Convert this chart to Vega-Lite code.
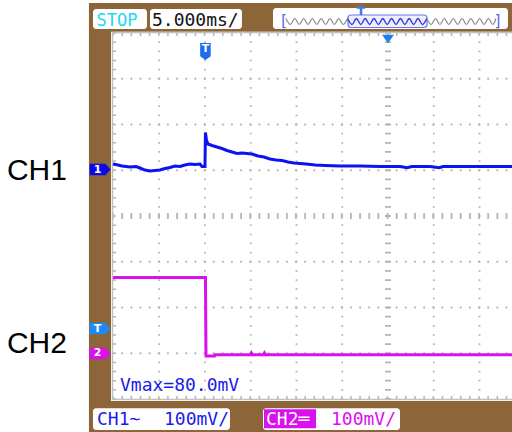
{
  "$schema": "https://vega.github.io/schema/vega-lite/v6.json",
  "width": 512,
  "height": 432,
  "autosize": {"type": "none"},
  "padding": 0,
  "background": "white",
  "config": {"view": {"stroke": null}},
  "datasets": {
    "frame": [{"t": -12.68, "t2": 33.55, "v": 465.6, "v2": -472.1}],
    "plot": [{"t": -10.27, "t2": 33.55, "v": 402.8, "v2": -404.4}],
    "gridDots": [
      {"t": -5, "t2": -5, "v": 400, "v2": -400},
      {"t": 0, "t2": 0, "v": 400, "v2": -400},
      {"t": 5, "t2": 5, "v": 400, "v2": -400},
      {"t": 10, "t2": 10, "v": 400, "v2": -400},
      {"t": 15, "t2": 15, "v": 400, "v2": -400},
      {"t": 25, "t2": 25, "v": 400, "v2": -400},
      {"t": 30, "t2": 30, "v": 400, "v2": -400},
      {"t": -10.05, "t2": 33.55, "v": 300, "v2": 300},
      {"t": -10.05, "t2": 33.55, "v": 200, "v2": 200},
      {"t": -10.05, "t2": 33.55, "v": 100, "v2": 100},
      {"t": -10.05, "t2": 33.55, "v": -100, "v2": -100},
      {"t": -10.05, "t2": 33.55, "v": -200, "v2": -200},
      {"t": -10.05, "t2": 33.55, "v": -300, "v2": -300}
    ],
    "gridCenter": [
      {"t": 20, "t2": 20, "v": 400, "v2": -400},
      {"t": -10.05, "t2": 33.55, "v": 0, "v2": 0}
    ],
    "border": [
      {"t": -10.11, "t2": -10.11, "v": 402, "v2": -402},
      {"t": -10.11, "t2": 33.55, "v": 401.1, "v2": 401.1},
      {"t": -10.11, "t2": 33.55, "v": -401.1, "v2": -401.1}
    ],
    "borderTicks": [
      {"t": -10.05, "t2": 33.55, "v": 396.7, "v2": 396.7},
      {"t": -10.05, "t2": 33.55, "v": -396.7, "v2": -396.7},
      {"t": -9.89, "t2": -9.89, "v": 400, "v2": -400}
    ],
    "ch1": [
      {"t": -10.05, "v": 113.7}, {"t": -9.51, "v": 111.5}, {"t": -9.07, "v": 109.3},
      {"t": -8.2, "v": 107.1}, {"t": -7.54, "v": 108.2}, {"t": -7.1, "v": 104.9},
      {"t": -6.56, "v": 100.5}, {"t": -6.01, "v": 98.4}, {"t": -5.46, "v": 99.5},
      {"t": -4.92, "v": 100.5}, {"t": -4.37, "v": 103.8}, {"t": -3.83, "v": 106.0},
      {"t": -3.28, "v": 109.3}, {"t": -2.73, "v": 108.2}, {"t": -2.19, "v": 111.5},
      {"t": -1.64, "v": 113.7}, {"t": -1.09, "v": 112.6}, {"t": -0.55, "v": 113.7},
      {"t": -0.33, "v": 108.2}, {"t": 0.0, "v": 108.2}, {"t": 0.05, "v": 182.5},
      {"t": 0.16, "v": 166.1}, {"t": 0.33, "v": 157.4}, {"t": 0.77, "v": 154.1},
      {"t": 1.31, "v": 150.8}, {"t": 1.86, "v": 147.5}, {"t": 2.4, "v": 143.2},
      {"t": 2.95, "v": 139.9}, {"t": 3.5, "v": 136.6}, {"t": 4.04, "v": 137.7},
      {"t": 4.59, "v": 136.6}, {"t": 5.14, "v": 135.5}, {"t": 5.79, "v": 131.1},
      {"t": 6.45, "v": 129.0}, {"t": 7.1, "v": 124.6}, {"t": 7.76, "v": 122.4},
      {"t": 8.42, "v": 121.3}, {"t": 9.07, "v": 118.0}, {"t": 9.73, "v": 115.8},
      {"t": 10.38, "v": 114.8}, {"t": 11.04, "v": 113.7}, {"t": 12.02, "v": 111.5},
      {"t": 13.11, "v": 110.4}, {"t": 14.75, "v": 109.3}, {"t": 16.94, "v": 109.3},
      {"t": 19.13, "v": 108.2}, {"t": 21.31, "v": 108.2}, {"t": 22.1, "v": 105.5},
      {"t": 22.6, "v": 108.2}, {"t": 24.59, "v": 108.2}, {"t": 25.6, "v": 105.5},
      {"t": 26.0, "v": 108.2}, {"t": 27.87, "v": 108.2}, {"t": 31.15, "v": 108.2},
      {"t": 33.55, "v": 108.2}
    ],
    "ch2": [
      {"t": -10.05, "v": -134.4}, {"t": 0.05, "v": -134.4}, {"t": 0.11, "v": -306.0},
      {"t": 1.04, "v": -306.0}, {"t": 1.09, "v": -303.2}, {"t": 5.0, "v": -303.2},
      {"t": 5.08, "v": -299.5}, {"t": 5.2, "v": -303.2}, {"t": 6.4, "v": -303.2},
      {"t": 6.5, "v": -299.5}, {"t": 6.62, "v": -303.2}, {"t": 33.55, "v": -303.2}
    ],
    "chMarkers": [
      {"t": -11.46, "v": 101.6, "c": "1"},
      {"t": -11.46, "v": -245.9, "c": "T"},
      {"t": -11.46, "v": -300.5, "c": "2"}
    ],
    "trig": [{"t": 0.05, "v": 359.6}],
    "trigText": [{"t": 0.05, "v": 366.0, "s": "T"}],
    "center": [{"t": 20, "v": 386.9}],
    "boxes": [
      {"t": -12.24, "t2": -6.34, "v": 452.5, "v2": 408.7},
      {"t": -6.01, "t2": 4.04, "v": 452.5, "v2": 408.7},
      {"t": 7.43, "t2": 33.11, "v": 454.6, "v2": 408.7},
      {"t": -12.24, "t2": 2.73, "v": -420.0, "v2": -467.8},
      {"t": 6.34, "t2": 21.31, "v": -420.0, "v2": -467.8}
    ],
    "memHi": [{"t": 15.63, "t2": 24.26, "v": 439.3, "v2": 412.0}],
    "memT": [
      {"t": 16.58, "t2": 17.49, "v": 455.7, "v2": 455.7},
      {"t": 17.05, "t2": 17.05, "v": 455.7, "v2": 439.3}
    ],
    "waveGreyL": [
      {"t": 8.85, "v": 431.7}, {"t": 9.33, "v": 418.6}, {"t": 9.81, "v": 431.7},
      {"t": 10.3, "v": 418.6}, {"t": 10.78, "v": 431.7}, {"t": 11.26, "v": 418.6},
      {"t": 11.74, "v": 431.7}, {"t": 12.22, "v": 418.6}, {"t": 12.7, "v": 431.7},
      {"t": 13.18, "v": 418.6}, {"t": 13.66, "v": 431.7}, {"t": 14.14, "v": 418.6},
      {"t": 14.62, "v": 431.7}, {"t": 15.1, "v": 418.6}, {"t": 15.58, "v": 431.7}
    ],
    "waveBlue": [
      {"t": 15.58, "v": 431.7}, {"t": 16.07, "v": 418.6}, {"t": 16.55, "v": 431.7},
      {"t": 17.03, "v": 418.6}, {"t": 17.51, "v": 431.7}, {"t": 17.99, "v": 418.6},
      {"t": 18.47, "v": 431.7}, {"t": 18.95, "v": 418.6}, {"t": 19.43, "v": 431.7},
      {"t": 19.91, "v": 418.6}, {"t": 20.39, "v": 431.7}, {"t": 20.87, "v": 418.6},
      {"t": 21.36, "v": 431.7}, {"t": 21.84, "v": 418.6}, {"t": 22.32, "v": 431.7},
      {"t": 22.8, "v": 418.6}, {"t": 23.28, "v": 431.7}, {"t": 23.76, "v": 418.6},
      {"t": 24.24, "v": 431.7}
    ],
    "waveGreyR": [
      {"t": 24.24, "v": 431.7}, {"t": 24.72, "v": 418.6}, {"t": 25.2, "v": 431.7},
      {"t": 25.68, "v": 418.6}, {"t": 26.16, "v": 431.7}, {"t": 26.64, "v": 418.6},
      {"t": 27.13, "v": 431.7}, {"t": 27.61, "v": 418.6}, {"t": 28.09, "v": 431.7},
      {"t": 28.57, "v": 418.6}, {"t": 29.05, "v": 431.7}, {"t": 29.53, "v": 418.6},
      {"t": 30.01, "v": 431.7}, {"t": 30.49, "v": 418.6}, {"t": 30.97, "v": 431.7},
      {"t": 31.45, "v": 418.6}, {"t": 31.8, "v": 431.7}
    ],
    "brackets": [
      {"t": 8.58, "v": 414.2, "s": "["},
      {"t": 32.02, "v": 414.2, "s": "]"}
    ],
    "magRect": [{"t": 6.45, "t2": 12.13, "v": -422.5, "v2": -464.1}],
    "stopText": [{"t": -11.86, "v": 415.3, "s": "STOP"}],
    "timeText": [{"t": -5.79, "v": 414.5, "s": "5.000ms/"}],
    "blueTexts": [
      {"t": -9.29, "v": -382.5, "s": "Vmax=80.0mV"},
      {"t": -11.8, "v": -456.8, "s": "CH1~"},
      {"t": -4.48, "v": -456.8, "s": "100mV/"}
    ],
    "ch2Label": [{"t": 6.67, "v": -456.8, "s": "CH2═"}],
    "ch2Scale": [{"t": 13.77, "v": -456.8, "s": "100mV/"}],
    "sideLabels": [
      {"t": -21.64, "v": 78.7, "s": "CH1"},
      {"t": -21.64, "v": -300.1, "s": "CH2"}
    ]
  },
  "encoding": {
    "x": {"field": "t", "type": "quantitative", "scale": {"domain": [-22.4, 33.55], "nice": false, "zero": false}, "axis": null},
    "y": {"field": "v", "type": "quantitative", "scale": {"domain": [-472.1, 472.1], "nice": false, "zero": false}, "axis": null}
  },
  "layer": [
    {"data": {"name": "frame"}, "mark": {"type": "rect", "fill": "#8C6539"},
     "encoding": {"x2": {"field": "t2"}, "y2": {"field": "v2"}}},
    {"data": {"name": "plot"}, "mark": {"type": "rect", "fill": "#FFFFFF"},
     "encoding": {"x2": {"field": "t2"}, "y2": {"field": "v2"}}},
    {"data": {"name": "gridDots"}, "mark": {"type": "rule", "stroke": "#B4B4B4", "strokeWidth": 1.8, "strokeDash": [1.8, 7.35], "strokeDashOffset": 0.9},
     "encoding": {"x2": {"field": "t2"}, "y2": {"field": "v2"}}},
    {"data": {"name": "gridCenter"}, "mark": {"type": "rule", "stroke": "#B4B4B4", "strokeWidth": 6, "strokeDash": [1.8, 7.35], "strokeDashOffset": 0.9},
     "encoding": {"x2": {"field": "t2"}, "y2": {"field": "v2"}}},
    {"data": {"name": "border"}, "mark": {"type": "rule", "stroke": "#C0C0C0", "strokeWidth": 1.5},
     "encoding": {"x2": {"field": "t2"}, "y2": {"field": "v2"}}},
    {"data": {"name": "borderTicks"}, "mark": {"type": "rule", "stroke": "#B4B4B4", "strokeWidth": 3, "strokeDash": [1.5, 7.65], "strokeDashOffset": 0.75},
     "encoding": {"x2": {"field": "t2"}, "y2": {"field": "v2"}}},
    {"data": {"name": "ch2"}, "mark": {"type": "line", "stroke": "#DA10EE", "strokeWidth": 3, "strokeJoin": "miter"},
     "encoding": {}},
    {"data": {"name": "ch1"}, "mark": {"type": "line", "stroke": "#0B14F0", "strokeWidth": 3, "strokeJoin": "miter"},
     "encoding": {}},
    {"data": {"name": "chMarkers"},
     "mark": {"type": "point", "filled": true, "opacity": 1, "strokeWidth": 0, "size": 441, "shape": "M-1,-0.55L0.5,-0.55L1,0L0.5,0.55L-1,0.55Z"},
     "encoding": {"color": {"field": "c", "type": "nominal", "scale": {"domain": ["1", "T", "2"], "range": ["#0A0AE8", "#1E8AF2", "#DA10EE"]}, "legend": null}}},
    {"data": {"name": "chMarkers"},
     "mark": {"type": "text", "fill": "#FFFFFF", "font": "DejaVu Sans", "fontWeight": "bold", "fontSize": 11, "align": "center", "baseline": "middle", "dx": -2.5},
     "encoding": {"text": {"field": "c"}}},
    {"data": {"name": "trig"},
     "mark": {"type": "point", "filled": true, "opacity": 1, "strokeWidth": 0, "size": 289, "fill": "#1D6DEE", "shape": "M-0.62,-1L0.62,-1L0.62,0.55L0,1L-0.62,0.55Z"},
     "encoding": {}},
    {"data": {"name": "trigText"},
     "mark": {"type": "text", "fill": "#FFFFFF", "font": "DejaVu Sans", "fontWeight": "bold", "fontSize": 11, "align": "center", "baseline": "middle"},
     "encoding": {"text": {"field": "s"}}},
    {"data": {"name": "center"},
     "mark": {"type": "point", "filled": true, "opacity": 1, "strokeWidth": 0, "size": 144, "fill": "#1E7FEA", "shape": "M-1,-0.7L1,-0.7L0,0.7Z"},
     "encoding": {}},
    {"data": {"name": "boxes"}, "mark": {"type": "rect", "fill": "#FFFFFF", "cornerRadius": 3},
     "encoding": {"x2": {"field": "t2"}, "y2": {"field": "v2"}}},
    {"data": {"name": "memHi"}, "mark": {"type": "rect", "fill": "#EEEEFF", "stroke": "#6A78F0", "strokeWidth": 1.2, "cornerRadius": 3},
     "encoding": {"x2": {"field": "t2"}, "y2": {"field": "v2"}}},
    {"data": {"name": "memT"}, "mark": {"type": "rule", "stroke": "#3C7BE8", "strokeWidth": 2.5},
     "encoding": {"x2": {"field": "t2"}, "y2": {"field": "v2"}}},
    {"data": {"name": "waveGreyL"}, "mark": {"type": "line", "stroke": "#8A8A8A", "strokeWidth": 1.2, "interpolate": "monotone"}, "encoding": {}},
    {"data": {"name": "waveBlue"}, "mark": {"type": "line", "stroke": "#3434E0", "strokeWidth": 1.4, "interpolate": "monotone"}, "encoding": {}},
    {"data": {"name": "waveGreyR"}, "mark": {"type": "line", "stroke": "#8A8A8A", "strokeWidth": 1.2, "interpolate": "monotone"}, "encoding": {}},
    {"data": {"name": "brackets"},
     "mark": {"type": "text", "fill": "#5566EE", "font": "DejaVu Sans Mono", "fontSize": 15, "align": "center", "baseline": "alphabetic"},
     "encoding": {"text": {"field": "s"}}},
    {"data": {"name": "magRect"}, "mark": {"type": "rect", "fill": "#DA10EE"},
     "encoding": {"x2": {"field": "t2"}, "y2": {"field": "v2"}}},
    {"data": {"name": "stopText"},
     "mark": {"type": "text", "fill": "#1ED8F5", "font": "DejaVu Sans Mono", "fontSize": 17, "align": "left", "baseline": "alphabetic"},
     "encoding": {"text": {"field": "s"}}},
    {"data": {"name": "timeText"},
     "mark": {"type": "text", "fill": "#111111", "font": "DejaVu Sans Mono", "fontSize": 18, "align": "left", "baseline": "alphabetic"},
     "encoding": {"text": {"field": "s"}}},
    {"data": {"name": "blueTexts"},
     "mark": {"type": "text", "fill": "#1B1BEA", "font": "DejaVu Sans Mono", "fontSize": 18, "align": "left", "baseline": "alphabetic"},
     "encoding": {"text": {"field": "s"}}},
    {"data": {"name": "ch2Label"},
     "mark": {"type": "text", "fill": "#FFFFFF", "font": "DejaVu Sans Mono", "fontSize": 18, "align": "left", "baseline": "alphabetic"},
     "encoding": {"text": {"field": "s"}}},
    {"data": {"name": "ch2Scale"},
     "mark": {"type": "text", "fill": "#DA10EE", "font": "DejaVu Sans Mono", "fontSize": 18, "align": "left", "baseline": "alphabetic"},
     "encoding": {"text": {"field": "s"}}},
    {"data": {"name": "sideLabels"},
     "mark": {"type": "text", "fill": "#000000", "font": "Liberation Sans", "fontSize": 30, "align": "left", "baseline": "alphabetic"},
     "encoding": {"text": {"field": "s"}}}
  ]
}
